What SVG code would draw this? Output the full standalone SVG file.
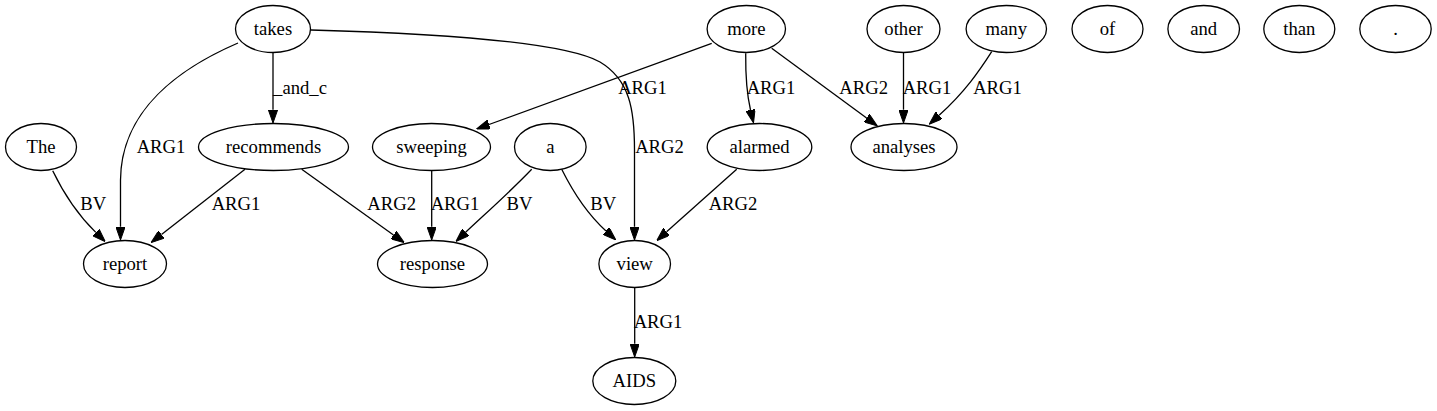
<svg xmlns="http://www.w3.org/2000/svg" width="1437" height="411" viewBox="0 0 1437 411">
<style>
.n ellipse{fill:none;stroke:#000;stroke-width:1.3}
text{font-family:"Liberation Serif","Times New Roman",serif;font-size:18.67px;fill:#000;text-anchor:middle}
.e path{fill:none;stroke:#000;stroke-width:1.3}
</style>
<defs>
<marker id="ah" viewBox="0 0 13.3 9.4" refX="0" refY="4.7" markerWidth="13.3" markerHeight="9.4" markerUnits="userSpaceOnUse" orient="auto">
<path d="M0,0 L13.3,4.7 L0,9.4 Z" fill="#000" stroke="#000" stroke-width="1"/>
</marker>
</defs>
<rect width="1437" height="411" fill="#fff"/>
<g id="edges" class="e">
<path d="M238,43 C180,68 121,110 120.5,180 L120.5,226.7" marker-end="url(#ah)"/>
<text x="161" y="152.5">ARG1</text>
<path d="M273,53 L273,109.7" marker-end="url(#ah)"/>
<text x="300" y="94">_and_c</text>
<path d="M311,30 C420,33 560,40 600,62 C630,80 634.5,110 634.5,150 L634.5,226.7" marker-end="url(#ah)"/>
<text x="659.5" y="152.5">ARG2</text>
<path d="M52.7,170.7 C62,190 75,212 95.8,232.4" marker-end="url(#ah)"/>
<text x="93.3" y="209.6">BV</text>
<path d="M245,169.3 L161.5,234.5" marker-end="url(#ah)"/>
<text x="236" y="209.6">ARG1</text>
<path d="M301.7,169.3 L393.5,235" marker-end="url(#ah)"/>
<text x="391.7" y="209.6">ARG2</text>
<path d="M431.7,171 L431.7,226.7" marker-end="url(#ah)"/>
<text x="455" y="209.6">ARG1</text>
<path d="M531.7,169.3 C510,192 485,214 465.6,232.3" marker-end="url(#ah)"/>
<text x="519.5" y="209.6">BV</text>
<path d="M561.7,169.3 C572,190 585,212 606,231" marker-end="url(#ah)"/>
<text x="603.3" y="209.6">BV</text>
<path d="M736.7,169.3 L666.6,231.8" marker-end="url(#ah)"/>
<text x="733" y="209.6">ARG2</text>
<path d="M634.7,288 L634.7,343.7" marker-end="url(#ah)"/>
<text x="658" y="328">ARG1</text>
<path d="M711.7,43.3 L489,124.5" marker-end="url(#ah)"/>
<text x="642.5" y="94">ARG1</text>
<path d="M745.7,53.3 C745.5,75 747,95 750.5,110" marker-end="url(#ah)"/>
<text x="771" y="94">ARG1</text>
<path d="M771.7,48.3 L866.6,118.1" marker-end="url(#ah)"/>
<text x="863.7" y="94">ARG2</text>
<path d="M903.5,53 L903.5,109.7" marker-end="url(#ah)"/>
<text x="927" y="94">ARG1</text>
<path d="M991.7,51.7 C980,70 965,92 939.1,115.3" marker-end="url(#ah)"/>
<text x="997.5" y="94">ARG1</text>
</g>
<g id="n-takes" class="n"><ellipse cx="273" cy="29" rx="37.5" ry="23.5"/><text x="273" y="34.6">takes</text></g>
<g id="n-more" class="n"><ellipse cx="746.3" cy="29" rx="39.2" ry="23.5"/><text x="746.3" y="34.6">more</text></g>
<g id="n-other" class="n"><ellipse cx="903.5" cy="29" rx="36.5" ry="23.5"/><text x="903.5" y="34.6">other</text></g>
<g id="n-many" class="n"><ellipse cx="1006.3" cy="29" rx="40.2" ry="23.5"/><text x="1006.3" y="34.6">many</text></g>
<g id="n-of" class="n"><ellipse cx="1107.5" cy="29" rx="35.5" ry="23.5"/><text x="1107.5" y="34.6">of</text></g>
<g id="n-and" class="n"><ellipse cx="1203.7" cy="29" rx="35.8" ry="23.5"/><text x="1203.7" y="34.6">and</text></g>
<g id="n-than" class="n"><ellipse cx="1299.3" cy="29" rx="35.5" ry="23.5"/><text x="1299.3" y="34.6">than</text></g>
<g id="n-dot" class="n"><ellipse cx="1395.5" cy="29" rx="35.7" ry="23.5"/><text x="1395.5" y="34.6">.</text></g>
<g id="n-The" class="n"><ellipse cx="41" cy="147" rx="35.5" ry="23.5"/><text x="41" y="152.6">The</text></g>
<g id="n-recommends" class="n"><ellipse cx="273.5" cy="147" rx="75" ry="23.5"/><text x="273.5" y="152.6">recommends</text></g>
<g id="n-sweeping" class="n"><ellipse cx="431.5" cy="147" rx="59" ry="23.5"/><text x="431.5" y="152.6">sweeping</text></g>
<g id="n-a" class="n"><ellipse cx="550.3" cy="147" rx="35.8" ry="23.5"/><text x="550.3" y="152.6">a</text></g>
<g id="n-alarmed" class="n"><ellipse cx="759.5" cy="147" rx="52.3" ry="23.5"/><text x="759.5" y="152.6">alarmed</text></g>
<g id="n-analyses" class="n"><ellipse cx="904" cy="147" rx="53" ry="23.5"/><text x="904" y="152.6">analyses</text></g>
<g id="n-report" class="n"><ellipse cx="125" cy="264" rx="41.5" ry="23.5"/><text x="125" y="269.6">report</text></g>
<g id="n-response" class="n"><ellipse cx="432.5" cy="264" rx="55" ry="23.5"/><text x="432.5" y="269.6">response</text></g>
<g id="n-view" class="n"><ellipse cx="634.7" cy="264" rx="35.8" ry="23.5"/><text x="634.7" y="269.6">view</text></g>
<g id="n-AIDS" class="n"><ellipse cx="634.3" cy="381" rx="41.5" ry="23.5"/><text x="634.3" y="386.6">AIDS</text></g>
</svg>
